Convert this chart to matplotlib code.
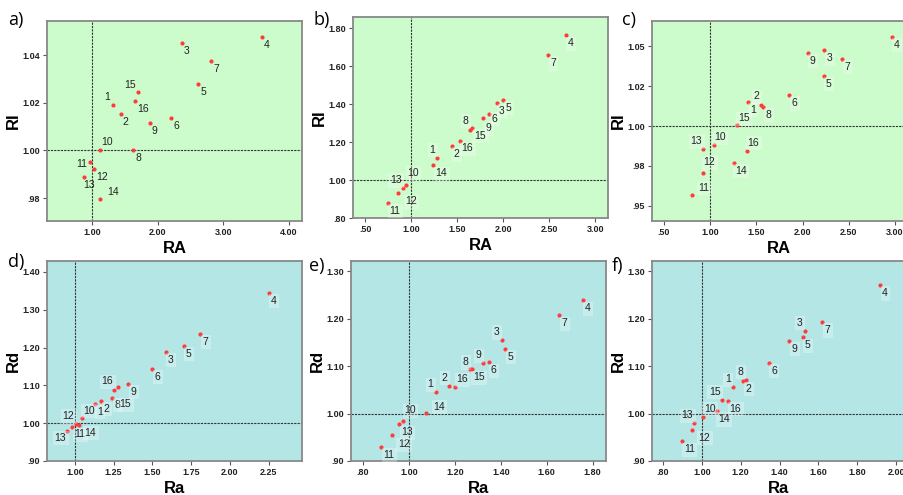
import matplotlib
matplotlib.use("Agg")
import matplotlib.pyplot as plt
from matplotlib.ticker import FixedLocator, FixedFormatter

plt.rcParams["font.family"] = ["Liberation Sans", "DejaVu Sans"]

# point numbers, same order in every panel
ids = list(range(1, 17))

# panel a: RA vs RI
a_x = [1.32, 1.44, 2.37, 3.59, 2.62, 2.21, 2.82, 1.63, 1.88, 1.12, 0.97, 1.03, 0.88, 1.13, 1.70, 1.65]
a_y = [1.0189, 1.0154, 1.0449, 1.0477, 1.0280, 1.0137, 1.0374, 1.0000, 1.0116, 1.0003,
       0.9950, 0.9924, 0.9889, 0.9795, 1.0244, 1.0206]

# panel b: RA vs RI
b_x = [1.28, 1.44, 1.93, 2.68, 2.00, 1.845, 2.485, 1.664, 1.78, 0.94, 0.742, 0.854, 0.905, 1.24, 1.64, 1.53]
b_y = [1.117, 1.179, 1.407, 1.762, 1.423, 1.349, 1.658, 1.275, 1.326, 0.974,
       0.881, 0.930, 0.958, 1.077, 1.265, 1.204]

# panel c: RA vs RI
c_x = [1.55, 1.413, 2.235, 2.967, 2.23, 1.855, 2.427, 1.576, 2.058, 1.039, 0.80, 0.924, 0.924, 1.253, 1.286, 1.40]
c_y = [1.0134, 1.0149, 1.0475, 1.0561, 1.0316, 1.0195, 1.0423, 1.0121, 1.0460, 0.9880,
       0.9569, 0.9703, 0.9856, 0.9770, 1.0006, 0.9845]

# panel d: Ra vs Rd
d_x = [1.129, 1.172, 1.587, 2.252, 1.704, 1.501, 1.809, 1.241, 1.346, 1.045, 1.006, 0.983, 0.952, 1.030, 1.280, 1.256]
d_y = [1.051, 1.060, 1.189, 1.345, 1.205, 1.144, 1.237, 1.067, 1.104, 1.014,
       0.997, 0.990, 0.980, 0.9955, 1.095, 1.087]

# panel e: Ra vs Rd
e_x = [1.116, 1.175, 1.404, 1.757, 1.420, 1.348, 1.655, 1.267, 1.322, 0.974, 0.878, 0.926, 0.957, 1.075, 1.273, 1.201]
e_y = [1.045, 1.059, 1.155, 1.239, 1.137, 1.108, 1.207, 1.094, 1.106, 0.984,
       0.930, 0.954, 0.977, 1.002, 1.093, 1.055]

# panel f: Ra vs Rd
f_x = [1.159, 1.225, 1.530, 1.916, 1.520, 1.345, 1.620, 1.212, 1.449, 1.005, 0.900, 0.952, 0.961, 1.076, 1.102, 1.137]
f_y = [1.055, 1.071, 1.175, 1.271, 1.161, 1.107, 1.193, 1.069, 1.154, 0.993,
       0.9417, 0.9663, 0.9796, 1.0055, 1.0295, 1.027]

# tick values and labels
a_xt, a_xl = [1, 2, 3, 4], ["1.00", "2.00", "3.00", "4.00"]
a_yt, a_yl = [0.98, 1.0, 1.02, 1.04], [".98", "1.00", "1.02", "1.04"]
bc_xt, bc_xl = [0.5, 1, 1.5, 2, 2.5, 3], [".50", "1.00", "1.50", "2.00", "2.50", "3.00"]
b_yt, b_yl = [0.8, 1.0, 1.2, 1.4, 1.6, 1.8], [".80", "1.00", "1.20", "1.40", "1.60", "1.80"]
c_yt, c_yl = [0.95, 0.975, 1.0, 1.025, 1.05], [".95", ".98", "1.00", "1.02", "1.05"]
d_xt, d_xl = [1, 1.25, 1.5, 1.75, 2, 2.25], ["1.00", "1.25", "1.50", "1.75", "2.00", "2.25"]
d_yt, d_yl = [0.9, 1.0, 1.1, 1.2, 1.3, 1.4], [".90", "1.00", "1.10", "1.20", "1.30", "1.40"]
e_xt, e_xl = [0.8, 1.0, 1.2, 1.4, 1.6, 1.8], [".80", "1.00", "1.20", "1.40", "1.60", "1.80"]
f_xt, f_xl = [0.8, 1.0, 1.2, 1.4, 1.6, 1.8, 2.0], [".80", "1.00", "1.20", "1.40", "1.60", "1.80", "2.00"]
ef_yt, ef_yl = [0.9, 1.0, 1.1, 1.2, 1.3], [".90", "1.00", "1.10", "1.20", "1.30"]

# label offsets in pixels (right, down); default is below-right
DEFAULT_OFF = (5, 8)
offsets = {
    "a": {15: (-8, -7), 1: (-6, -8), 10: (7, -8), 11: (-8, 2), 12: (8, 8), 16: (8, 8), 14: (13, -7)},
    "b": {6: (5, 5), 9: (5, 10), 8: (-7, -7), 15: (10, 6), 16: (7, 7), 1: (-5, -8), 14: (8, 8),
          10: (7, -12), 13: (-7, -8), 12: (13, 8), 11: (7, 8)},
    "c": {2: (8, -6), 1: (-8, 5), 15: (7, -7), 10: (6, -8), 13: (-7, -8), 16: (6, -8), 14: (7, 8),
          12: (6, -11), 11: (12, -7)},
    "d": {16: (-7, -9), 8: (5, 7), 15: (7, 17), 10: (7, -7), 12: (-4, -11), 11: (4, 10),
          14: (11, 8), 13: (-7, 7)},
    "e": {3: (-5, -8), 9: (-4, -8), 8: (-5, -7), 15: (7, 8), 16: (7, -8), 2: (-5, -8), 1: (-5, -8),
          14: (13, -6), 10: (7, -11), 13: (8, 8), 12: (12, 9), 11: (8, 8)},
    "f": {3: (-5, -8), 8: (-3, -9), 2: (3, 9), 1: (-5, -8), 15: (-7, -8), 16: (7, 8), 14: (7, 8),
          10: (7, -8), 13: (-7, -8), 12: (12, 8), 11: (7, 8)},
}

GREEN = "#ccfccc"
CYAN = "#b4e6e6"

W, H = 904, 495
fig = plt.figure(figsize=(W / 100, H / 100), dpi=100)


def px_axes(left, top, right, bottom):
    return fig.add_axes([left / W, 1 - bottom / H, (right - left) / W, (bottom - top) / H])


panels = [
    # key, box(px), x, y, xlim, ylim, xticks, yticks, bg, xlabel, ylabel, letter pos
    ("a", (47, 21, 302, 221), a_x, a_y, (0.315, 4.2), (0.9704, 1.0543), (a_xt, a_xl), (a_yt, a_yl),
     GREEN, "RA", "RI", (8, 20)),
    ("b", (353, 17, 608, 218), b_x, b_y, (0.365, 3.138), (0.80, 1.858), (bc_xt, bc_xl), (b_yt, b_yl),
     GREEN, "RA", "RI", (314, 20)),
    ("c", (652, 21, 906, 221), c_x, c_y, (0.37, 3.12), (0.9404, 1.066), (bc_xt, bc_xl), (c_yt, c_yl),
     GREEN, "RA", "RI", (622, 20)),
    ("d", (47, 261, 302, 461), d_x, d_y, (0.821, 2.466), (0.90, 1.429), (d_xt, d_xl), (d_yt, d_yl),
     CYAN, "Ra", "Rd", (8, 262)),
    ("e", (351, 261, 606, 461), e_x, e_y, (0.748, 1.858), (0.90, 1.3217), (e_xt, e_xl), (ef_yt, ef_yl),
     CYAN, "Ra", "Rd", (309, 266)),
    ("f", (652, 261, 906, 461), f_x, f_y, (0.744, 2.05), (0.90, 1.3216), (f_xt, f_xl), (ef_yt, ef_yl),
     CYAN, "Ra", "Rd", (612, 266)),
]

for key, box, xs, ys, xlim, ylim, (xt, xl), (yt, yl), bg, xlab, ylab, lpos in panels:
    ax = px_axes(*box)
    ax.set_facecolor(bg)
    ax.set_xlim(*xlim)
    ax.set_ylim(*ylim)
    ax.axvline(1.0, color="#333333", lw=0.8, ls=(0, (2, 1)), zorder=1)
    ax.axhline(1.0, color="#333333", lw=0.8, ls=(0, (2, 1)), zorder=1)
    ax.scatter(xs, ys, s=9, color="#ff3b3b", zorder=3, linewidths=0)

    boxed = key != "a"
    for i, x, y in zip(ids, xs, ys):
        dx, dy = offsets[key].get(i, DEFAULT_OFF)
        kw = {}
        if boxed:
            kw["bbox"] = dict(boxstyle="square,pad=0.15", fc="white", alpha=0.25, ec="white", lw=0.6)
        ax.annotate(str(i), (x, y), xytext=(dx, -dy), textcoords="offset pixels",
                    ha="center", va="center", fontsize=7.5, color="#222222", zorder=4, **kw)

    ax.xaxis.set_major_locator(FixedLocator(xt))
    ax.xaxis.set_major_formatter(FixedFormatter(xl))
    ax.yaxis.set_major_locator(FixedLocator(yt))
    ax.yaxis.set_major_formatter(FixedFormatter(yl))
    ax.tick_params(length=3, width=0.8, color="#555555", labelsize=6.5, pad=2)
    for lab in ax.get_xticklabels() + ax.get_yticklabels():
        lab.set_fontweight("bold")
        lab.set_color("#222222")
    for sp in ax.spines.values():
        sp.set_color("#888888")
        sp.set_linewidth(1.3)

    ax.set_xlabel(xlab, fontsize=12, fontweight="bold", labelpad=3)
    ax.set_ylabel(ylab, fontsize=12, fontweight="bold", labelpad=1)

    fig.text(lpos[0] / W, 1 - lpos[1] / H, key + ")", fontsize=13, va="center", ha="left",
             family=["Open Sans", "DejaVu Sans"])

fig.savefig("out.png", dpi=100)
